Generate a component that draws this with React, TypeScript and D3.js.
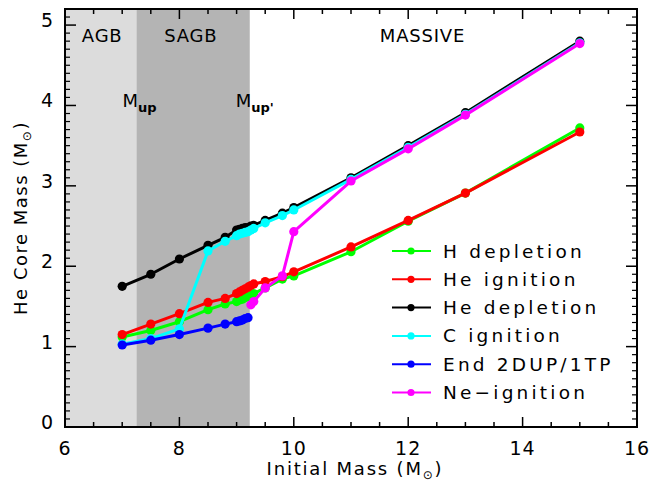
import React from "react";
import * as d3 from "d3";

// ---- data ----
const massLow = [7.0, 7.5, 8.0, 8.5, 8.8, 9.0, 9.05, 9.1, 9.15, 9.2];
const massHigh = [9.25, 9.3, 9.5, 9.8, 10, 11, 12, 13, 15];

const hDepletion = [1.12, 1.2, 1.31, 1.46, 1.53, 1.56, 1.58, 1.59, 1.61, 1.62, 1.64, 1.66, 1.73, 1.84, 1.88, 2.18, 2.56, 2.91, 3.72];
const heIgnition = [1.15, 1.28, 1.41, 1.55, 1.6, 1.66, 1.68, 1.7, 1.72, 1.74, 1.76, 1.78, 1.81, 1.87, 1.93, 2.24, 2.57, 2.91, 3.67];
const heDepletion = [1.75, 1.9, 2.09, 2.26, 2.36, 2.45, 2.46, 2.47, 2.48, 2.48, 2.5, 2.51, 2.57, 2.66, 2.73, 3.1, 3.5, 3.91, 4.8];
const cIgnition = [1.03, 1.1, 1.22, 2.19, 2.31, 2.38, 2.4, 2.41, 2.42, 2.43, 2.45, 2.47, 2.54, 2.63, 2.7, 3.08, 3.48, 3.89, 4.78];
const end2dup = [1.02, 1.08, 1.15, 1.23, 1.28, 1.31, 1.32, 1.33, 1.35, 1.36];
const neIgnition = [1.52, 1.56, 1.73, 1.88, 2.43, 3.06, 3.46, 3.88, 4.77];

const seriesNames = ["H depletion", "He ignition", "He depletion", "C ignition", "End 2DUP/1TP", "Ne\u2212ignition"];
const seriesColors = ["#00ff00", "#ff0000", "#000000", "#00ffff", "#0000ff", "#ff00ff"];

const allMass = [...massLow, ...massHigh];
const seriesX = [allMass, allMass, allMass, allMass, massLow, massHigh];
const seriesY = [hDepletion, heIgnition, heDepletion, cIgnition, end2dup, neIgnition];

const xDomain = [6, 16];
const yDomain = [0, 5.2];
const xMajor = [6, 8, 10, 12, 14, 16];
const yMajor = [0, 1, 2, 3, 4, 5];
const mUp = 7.25;
const mUpPrime = 9.23;

const regionLabels = [
  { text: "AGB", x: 6.65 },
  { text: "SAGB", x: 8.2 },
  { text: "MASSIVE", x: 12.25 },
];

export default function App() {
  const W = 651, H = 495;
  const left = 65, right = 637, top = 9, bottom = 427;
  const x = d3.scaleLinear().domain(xDomain).range([left, right]);
  const y = d3.scaleLinear().domain(yDomain).range([bottom, top]);
  const font = "DejaVu Sans, Liberation Sans, sans-serif";

  const xMinor = d3.range(6, 16.001, 0.5).filter((v) => !xMajor.some((m) => Math.abs(m - v) < 1e-6));
  const yMinor = d3.range(0, 5.2001, 0.1).filter((v) => !yMajor.some((m) => Math.abs(m - v) < 1e-6));

  const line = d3.line<[number, number]>().x((d) => x(d[0])).y((d) => y(d[1]));

  const legendX0 = 392, legendY0 = 251, legendDy = 28.3;

  return (
    <svg width={W} height={H} style={{ position: "absolute", left: 0, top: 0, background: "#fff" }} fontFamily={font}>
      {/* shaded regions */}
      <rect x={x(6)} y={top} width={x(mUp) - x(6)} height={bottom - top} fill="#dcdcdc" />
      <rect x={x(mUp)} y={top} width={x(mUpPrime) - x(mUp)} height={bottom - top} fill="#b4b4b4" />

      {/* region labels */}
      {regionLabels.map((r) => (
        <text key={r.text} x={x(r.x)} y={42} fontSize={18} textAnchor="middle" letterSpacing={0.8}>{r.text}</text>
      ))}
      <text x={x(mUp) - 14} y={107} fontSize={18}>
        M<tspan fontSize={13} fontWeight="bold" dy={5}>up</tspan>
      </text>
      <text x={x(mUpPrime) - 14} y={107} fontSize={18}>
        M<tspan fontSize={13} fontWeight="bold" dy={5}>up'</tspan>
      </text>

      {/* series */}
      {seriesY.map((ys, i) => {
        const pts: [number, number][] = ys.map((v, j) => [seriesX[i][j], v]);
        return (
          <g key={seriesNames[i]}>
            <path d={line(pts) || ""} fill="none" stroke={seriesColors[i]} strokeWidth={3} strokeLinejoin="round" />
            {pts.map((p, j) => (
              <circle key={j} cx={x(p[0])} cy={y(p[1])} r={4.6} fill={seriesColors[i]} />
            ))}
          </g>
        );
      })}

      {/* legend */}
      {seriesNames.map((n, i) => {
        const ly = legendY0 + i * legendDy;
        return (
          <g key={n}>
            <line x1={legendX0} x2={legendX0 + 39} y1={ly} y2={ly} stroke={seriesColors[i]} strokeWidth={2} />
            <circle cx={legendX0 + 19} cy={ly} r={3.6} fill={seriesColors[i]} />
            <text x={legendX0 + 51} y={ly + 6.5} fontSize={18.5} letterSpacing={3.2}>{n}</text>
          </g>
        );
      })}

      {/* axes frame */}
      <rect x={left} y={top} width={right - left} height={bottom - top} fill="none" stroke="#000" strokeWidth={2} />
      {xMajor.map((v) => (
        <g key={"xM" + v}>
          <line x1={x(v)} x2={x(v)} y1={bottom} y2={bottom - 10} stroke="#000" strokeWidth={1.5} />
          <line x1={x(v)} x2={x(v)} y1={top} y2={top + 10} stroke="#000" strokeWidth={1.5} />
          <text x={x(v)} y={455} fontSize={19} textAnchor="middle" letterSpacing={1}>{v}</text>
        </g>
      ))}
      {xMinor.map((v) => (
        <g key={"xm" + v}>
          <line x1={x(v)} x2={x(v)} y1={bottom} y2={bottom - 5} stroke="#000" strokeWidth={1.5} />
          <line x1={x(v)} x2={x(v)} y1={top} y2={top + 5} stroke="#000" strokeWidth={1.5} />
        </g>
      ))}
      {yMajor.map((v) => (
        <g key={"yM" + v}>
          <line x1={left} x2={left + 11} y1={y(v)} y2={y(v)} stroke="#000" strokeWidth={1.5} />
          <line x1={right} x2={right - 11} y1={y(v)} y2={y(v)} stroke="#000" strokeWidth={1.5} />
          <text x={53} y={y(v) + 2} fontSize={19} textAnchor="end">{v}</text>
        </g>
      ))}
      {yMinor.map((v) => (
        <g key={"ym" + v.toFixed(1)}>
          <line x1={left} x2={left + 5} y1={y(v)} y2={y(v)} stroke="#000" strokeWidth={1.2} />
          <line x1={right} x2={right - 5} y1={y(v)} y2={y(v)} stroke="#000" strokeWidth={1.2} />
        </g>
      ))}

      {/* axis titles */}
      <text x={(left + right) / 2 + 4} y={475} fontSize={18} textAnchor="middle" letterSpacing={1.8}>
        Initial Mass (M<tspan fontSize={12} dy={4}>{"\u2299"}</tspan><tspan dy={-4}>)</tspan>
      </text>
      <text transform={`translate(27, ${(top + bottom) / 2}) rotate(-90)`} fontSize={18} textAnchor="middle" letterSpacing={1.5}>
        He Core Mass (M<tspan fontSize={12} dy={4}>{"\u2299"}</tspan><tspan dy={-4}>)</tspan>
      </text>
    </svg>
  );
}
